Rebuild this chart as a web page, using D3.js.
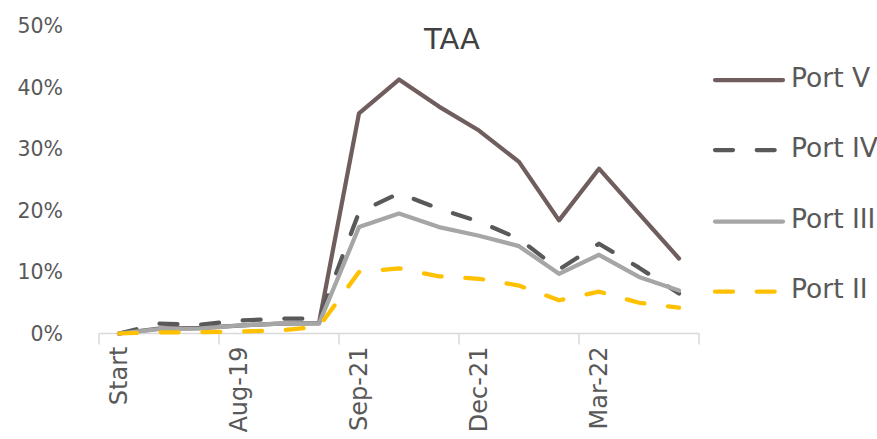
<!DOCTYPE html>
<html>
<head>
<meta charset="utf-8">
<script src="https://cdn.jsdelivr.net/npm/d3@7"></script>
<style>
  html, body { margin: 0; padding: 0; background: #fff; }
  svg { display: block; font-family: "DejaVu Sans", "Open Sans", sans-serif; }
</style>
</head>
<body>
<svg id="chart" width="877" height="439"></svg>
<script>
// Periods along the x axis (only every third one carries a label)
const periods = d3.range(15);
const tickLabels = ["Start", "", "", "Aug-19", "", "", "Sep-21", "", "", "Dec-21", "", "", "Mar-22", "", ""];

// Cumulative return per portfolio, in percent
const portV   = [0, 0.8, 0.9, 1.3, 1.6, 1.7, 35.8, 41.3, 36.9, 33.0, 27.9, 18.4, 26.8, 19.5, 12.2];
const portIV  = [0, 1.6, 1.4, 2.1, 2.4, 2.4, 19.7, 22.8, 20.3, 18.2, 15.4, 10.4, 14.6, 10.7, 6.5];
const portIII = [0, 0.7, 0.8, 1.3, 1.6, 1.6, 17.3, 19.5, 17.3, 15.9, 14.2, 9.7, 12.8, 9.2, 7.0];
const portII  = [0, 0.2, 0.2, 0.3, 0.5, 1.1, 10.0, 10.6, 9.3, 8.9, 7.8, 5.4, 6.8, 5.0, 4.2];

const yTicks = [0, 10, 20, 30, 40, 50];

const series = [
  { name: "Port V",   values: portV,   color: "#705E5E", dash: null },
  { name: "Port IV",  values: portIV,  color: "#595959", dash: "18 23.7" },
  { name: "Port III", values: portIII, color: "#A6A6A6", dash: null },
  { name: "Port II",  values: portII,  color: "#FFC000", dash: "18 23.7" }
];

const svg = d3.select("#chart");
const textColor = "#595959";
const fontFamily = "'DejaVu Sans', sans-serif";

const x = d3.scaleBand().domain(periods).range([99, 699]).padding(0);
const y = d3.scaleLinear().domain([0, 50]).range([333.5, 26]);

// Y axis labels (no axis line)
const yAxis = svg.append("g")
  .attr("transform", "translate(63,0)")
  .call(d3.axisLeft(y).tickValues(yTicks).tickFormat(d => d + "%").tickSize(0).tickPadding(0));
yAxis.select(".domain").remove();
yAxis.selectAll("text")
  .attr("fill", textColor)
  .style("font-size", "20.5px")
  .style("font-family", fontFamily);

// X axis: baseline, tick marks every third period, rotated labels
const xAxisG = svg.append("g").attr("transform", `translate(0,${y(0)})`);
xAxisG.append("line")
  .attr("x1", x.range()[0]).attr("x2", x.range()[1])
  .attr("y1", 0).attr("y2", 0)
  .attr("stroke", "#D9D9D9").attr("stroke-width", 1.5);
const tickPos = periods.filter(i => i % 3 === 0).map(i => x(i)).concat([x.range()[1]]);
xAxisG.selectAll("line.tick")
  .data(tickPos)
  .join("line")
  .attr("class", "tick")
  .attr("x1", d => d).attr("x2", d => d)
  .attr("y1", 0).attr("y2", 11)
  .attr("stroke", "#D9D9D9").attr("stroke-width", 1.5);
xAxisG.selectAll("text")
  .data(periods.filter(i => tickLabels[i] !== ""))
  .join("text")
  .attr("transform", d => `translate(${x(d) + x.bandwidth() / 2},13) rotate(-90)`)
  .attr("text-anchor", "end")
  .attr("dominant-baseline", "central")
  .attr("fill", textColor)
  .style("font-size", "24px")
  .style("font-family", fontFamily)
  .text(d => tickLabels[d]);

// Lines
const line = d3.line()
  .x((d, i) => x(periods[i]) + x.bandwidth() / 2)
  .y(d => y(d));

svg.append("g").selectAll("path")
  .data(series)
  .join("path")
  .attr("d", s => line(s.values))
  .attr("fill", "none")
  .attr("stroke", s => s.color)
  .attr("stroke-width", 4.25)
  .attr("stroke-linejoin", "round")
  .attr("stroke-linecap", "round")
  .attr("stroke-dasharray", s => s.dash);

// Title
svg.append("text")
  .attr("x", 452).attr("y", 49)
  .attr("text-anchor", "middle")
  .attr("fill", "#404040")
  .style("font-size", "29px")
  .style("font-family", fontFamily)
  .text("TAA");

// Legend
const legendY = [80, 150, 221.5, 291.5];
const legend = svg.append("g").selectAll("g")
  .data(series)
  .join("g")
  .attr("transform", (s, i) => `translate(0,${legendY[i]})`);
legend.append("line")
  .attr("x1", 715).attr("x2", 783)
  .attr("y1", 0).attr("y2", 0)
  .attr("stroke", s => s.color)
  .attr("stroke-width", 4.25)
  .attr("stroke-linecap", "round")
  .attr("stroke-dasharray", s => s.dash);
legend.append("text")
  .attr("x", 791).attr("y", -3)
  .attr("dominant-baseline", "central")
  .attr("fill", textColor)
  .style("font-size", "26.5px")
  .style("font-family", fontFamily)
  .text(s => s.name);
</script>
</body>
</html>
